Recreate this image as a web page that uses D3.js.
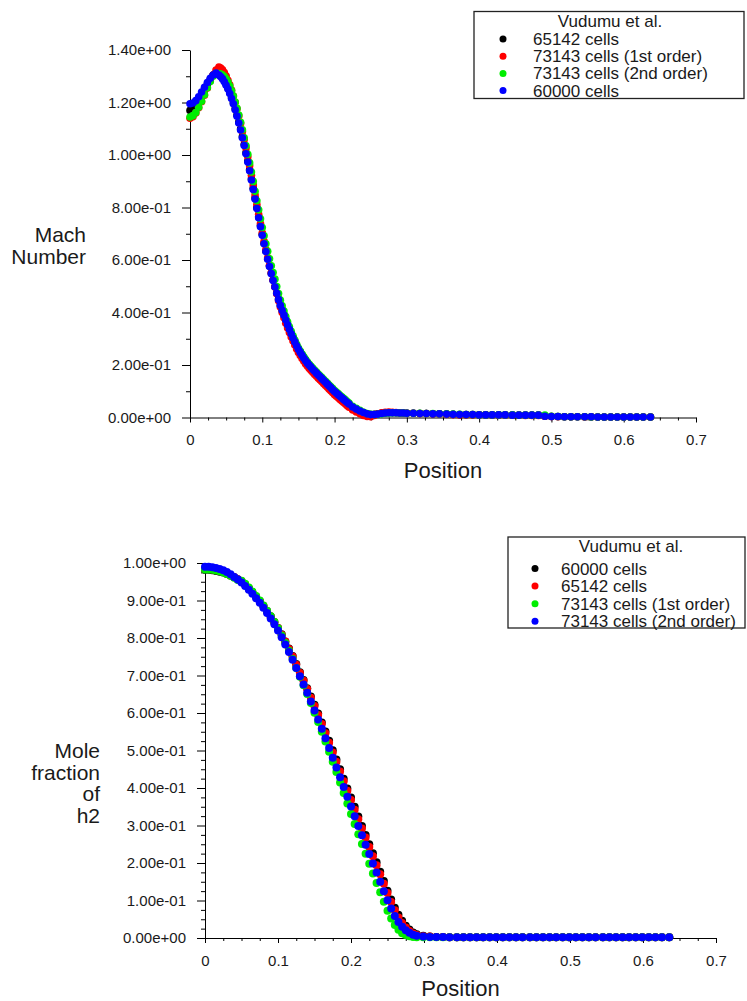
<!DOCTYPE html>
<html>
<head>
<meta charset="utf-8">
<script src="https://cdn.jsdelivr.net/npm/d3@7"></script>
<style>
  html, body { margin: 0; padding: 0; background: #fff; }
  svg { display: block; }
  text { font-family: "Liberation Sans", Arial, sans-serif; fill: #1a1a1a; }
</style>
</head>
<body>
<svg id="chart" width="747" height="1001"></svg>
<script>
// ---------- Mach number profile ----------
const machPosition = [
  0, 0.004, 0.008, 0.012, 0.016, 0.02, 0.024, 0.028, 0.032, 0.036, 0.04,
  0.0425, 0.045, 0.0475, 0.05, 0.0525, 0.055, 0.0575, 0.06, 0.0625, 0.065, 0.0675, 0.07, 0.0725, 0.075, 0.0775, 0.08, 0.0825, 0.085, 0.0875, 0.09, 0.0925, 0.095, 0.0975, 0.1,
  0.1025, 0.105, 0.1075, 0.11, 0.1125, 0.115, 0.1175, 0.12, 0.1225, 0.125, 0.1275, 0.13, 0.1325, 0.135, 0.1375, 0.14, 0.1425, 0.145, 0.1475, 0.15, 0.1525, 0.155, 0.1575, 0.16,
  0.1625, 0.165, 0.1675, 0.17, 0.1725, 0.175, 0.1775, 0.18, 0.1825, 0.185, 0.1875, 0.19, 0.1925, 0.195, 0.1975, 0.2, 0.2025, 0.205, 0.2075, 0.21, 0.2125, 0.215, 0.2175, 0.22,
  0.225, 0.23, 0.235, 0.24, 0.245, 0.25, 0.255, 0.26, 0.265, 0.27, 0.275, 0.28, 0.285, 0.29, 0.295, 0.3,
  0.309, 0.318, 0.327, 0.336, 0.345, 0.355, 0.364, 0.373, 0.382, 0.391, 0.4, 0.409, 0.418, 0.427, 0.436, 0.446, 0.455, 0.464, 0.473, 0.482,
  0.491, 0.5, 0.509, 0.518, 0.527, 0.536, 0.546, 0.555, 0.564, 0.573, 0.582, 0.591, 0.6, 0.609, 0.618, 0.627, 0.637
];
const mach65142 = [
  1.170, 1.176, 1.188, 1.205, 1.226, 1.247, 1.268, 1.288, 1.305, 1.314, 1.309,
  1.302, 1.294, 1.283, 1.270, 1.255, 1.238, 1.219, 1.199, 1.176, 1.152, 1.126, 1.099, 1.070, 1.040, 1.009, 0.977, 0.944, 0.909, 0.873, 0.836, 0.800, 0.765, 0.731, 0.698,
  0.664, 0.634, 0.605, 0.577, 0.550, 0.524, 0.499, 0.475, 0.451, 0.429, 0.410, 0.392, 0.373, 0.355, 0.338, 0.321, 0.305, 0.290, 0.275, 0.262, 0.250, 0.239, 0.228, 0.218,
  0.207, 0.199, 0.191, 0.183, 0.176, 0.169, 0.162, 0.155, 0.148, 0.141, 0.134, 0.127, 0.120, 0.113, 0.106, 0.099, 0.093, 0.087, 0.081, 0.075, 0.069, 0.063, 0.057, 0.051,
  0.040, 0.032, 0.025, 0.019, 0.014, 0.011, 0.012, 0.014, 0.016, 0.017, 0.018, 0.018, 0.018, 0.017, 0.017, 0.016,
  0.016, 0.015, 0.015, 0.014, 0.014, 0.013, 0.012, 0.011, 0.011, 0.011, 0.010, 0.010, 0.010, 0.010, 0.010, 0.009, 0.009, 0.009, 0.009, 0.009,
  0.005, 0.004, 0.004, 0.003, 0.003, 0.003, 0.003, 0.003, 0.002, 0.002, 0.002, 0.002, 0.002, 0.002, 0.002, 0.002, 0.002
];
const mach73143First = [
  1.140, 1.146, 1.160, 1.180, 1.203, 1.228, 1.255, 1.282, 1.305, 1.324, 1.335,
  1.331, 1.325, 1.314, 1.301, 1.285, 1.267, 1.247, 1.225, 1.201, 1.176, 1.149, 1.120, 1.090, 1.059, 1.027, 0.993, 0.959, 0.923, 0.886, 0.848, 0.811, 0.774, 0.739, 0.704,
  0.671, 0.640, 0.609, 0.580, 0.551, 0.524, 0.497, 0.471, 0.445, 0.421, 0.400, 0.380, 0.359, 0.341, 0.324, 0.307, 0.291, 0.276, 0.261, 0.248, 0.236, 0.225, 0.214, 0.204,
  0.195, 0.187, 0.179, 0.171, 0.164, 0.157, 0.150, 0.143, 0.136, 0.129, 0.122, 0.115, 0.108, 0.101, 0.094, 0.087, 0.081, 0.075, 0.069, 0.063, 0.057, 0.051, 0.045, 0.039,
  0.029, 0.021, 0.014, 0.008, 0.004, 0.003, 0.008, 0.014, 0.018, 0.020, 0.021, 0.020, 0.019, 0.018, 0.017, 0.016,
  0.016, 0.015, 0.015, 0.014, 0.013, 0.012, 0.011, 0.010, 0.010, 0.010, 0.010, 0.010, 0.009, 0.009, 0.009, 0.009, 0.009, 0.008, 0.008, 0.008,
  0.005, 0.004, 0.003, 0.003, 0.003, 0.003, 0.002, 0.002, 0.002, 0.002, 0.002, 0.002, 0.002, 0.002, 0.002, 0.002, 0.002
];
const mach73143Second = [
  1.145, 1.150, 1.162, 1.182, 1.205, 1.230, 1.256, 1.280, 1.300, 1.310, 1.310,
  1.308, 1.305, 1.299, 1.290, 1.278, 1.263, 1.245, 1.225, 1.202, 1.178, 1.152, 1.125, 1.096, 1.066, 1.035, 1.003, 0.970, 0.935, 0.899, 0.862, 0.826, 0.791, 0.757, 0.724,
  0.692, 0.662, 0.633, 0.605, 0.578, 0.552, 0.527, 0.499, 0.472, 0.447, 0.426, 0.406, 0.385, 0.365, 0.346, 0.328, 0.311, 0.295, 0.279, 0.265, 0.253, 0.242, 0.231, 0.221,
  0.211, 0.203, 0.195, 0.187, 0.180, 0.173, 0.166, 0.159, 0.152, 0.145, 0.138, 0.131, 0.124, 0.117, 0.110, 0.103, 0.097, 0.091, 0.085, 0.079, 0.073, 0.067, 0.061, 0.055,
  0.043, 0.035, 0.027, 0.020, 0.015, 0.012, 0.011, 0.012, 0.014, 0.016, 0.017, 0.018, 0.018, 0.017, 0.017, 0.016,
  0.016, 0.016, 0.015, 0.015, 0.014, 0.014, 0.013, 0.012, 0.011, 0.011, 0.010, 0.010, 0.010, 0.010, 0.010, 0.010, 0.009, 0.009, 0.009, 0.009,
  0.009, 0.005, 0.004, 0.003, 0.003, 0.003, 0.003, 0.002, 0.002, 0.002, 0.002, 0.002, 0.002, 0.002, 0.002, 0.002, 0.002
];
const mach60000 = [
  1.195, 1.198, 1.207, 1.222, 1.240, 1.258, 1.276, 1.292, 1.305, 1.312, 1.305,
  1.298, 1.290, 1.279, 1.266, 1.251, 1.234, 1.215, 1.195, 1.172, 1.148, 1.122, 1.095, 1.066, 1.036, 1.005, 0.973, 0.940, 0.905, 0.869, 0.832, 0.796, 0.761, 0.727, 0.694,
  0.662, 0.632, 0.603, 0.575, 0.548, 0.522, 0.497, 0.473, 0.449, 0.427, 0.408, 0.390, 0.371, 0.353, 0.336, 0.319, 0.303, 0.288, 0.273, 0.260, 0.248, 0.237, 0.226, 0.216,
  0.207, 0.199, 0.191, 0.183, 0.176, 0.169, 0.162, 0.155, 0.148, 0.141, 0.134, 0.127, 0.120, 0.113, 0.106, 0.099, 0.093, 0.087, 0.081, 0.075, 0.069, 0.063, 0.057, 0.051,
  0.040, 0.032, 0.025, 0.019, 0.014, 0.011, 0.011, 0.013, 0.015, 0.017, 0.018, 0.018, 0.018, 0.017, 0.017, 0.016,
  0.016, 0.015, 0.015, 0.014, 0.014, 0.013, 0.012, 0.011, 0.011, 0.011, 0.010, 0.010, 0.010, 0.010, 0.010, 0.009, 0.009, 0.009, 0.009, 0.009,
  0.005, 0.004, 0.004, 0.003, 0.003, 0.003, 0.003, 0.003, 0.002, 0.002, 0.002, 0.002, 0.002, 0.002, 0.002, 0.002, 0.002
];

// ---------- H2 mole fraction profile ----------
const h2Position = [
  0, 0.005, 0.01, 0.015, 0.02, 0.025, 0.03, 0.035, 0.04, 0.045,
  0.05, 0.055, 0.06, 0.065, 0.07, 0.075, 0.08, 0.085, 0.09, 0.095,
  0.1, 0.105, 0.11, 0.115, 0.12, 0.125, 0.13, 0.135, 0.14, 0.145,
  0.15, 0.155, 0.16, 0.165, 0.17, 0.175, 0.18, 0.185, 0.19, 0.195,
  0.2, 0.205, 0.21, 0.215, 0.22, 0.225, 0.23, 0.235, 0.24, 0.245,
  0.25, 0.255, 0.26, 0.265, 0.27, 0.275, 0.28, 0.285, 0.29,
  0.299, 0.308, 0.317, 0.326, 0.335, 0.345, 0.354, 0.363, 0.372, 0.381, 0.39, 0.399, 0.408, 0.417, 0.426, 0.435, 0.445, 0.454, 0.463,
  0.472, 0.481, 0.49, 0.499, 0.508, 0.517, 0.526, 0.535, 0.545, 0.554, 0.563, 0.572, 0.581, 0.59, 0.599, 0.608, 0.617, 0.626, 0.636
];
const h2Cells60000 = [
  0.982, 0.982, 0.981, 0.979, 0.977, 0.975, 0.971, 0.967, 0.962, 0.957,
  0.951, 0.943, 0.933, 0.922, 0.911, 0.899, 0.886, 0.872, 0.858, 0.843,
  0.827, 0.810, 0.791, 0.772, 0.752, 0.731, 0.709, 0.688, 0.666, 0.644,
  0.622, 0.599, 0.575, 0.551, 0.526, 0.501, 0.476, 0.450, 0.425, 0.399,
  0.375, 0.350, 0.324, 0.299, 0.275, 0.250, 0.226, 0.202, 0.177, 0.152,
  0.126, 0.103, 0.081, 0.062, 0.046, 0.033, 0.023, 0.015, 0.010,
  0.006, 0.004, 0.003, 0.003, 0.002, 0.002, 0.002, 0.002, 0.002, 0.002, 0.002, 0.002, 0.002, 0.002, 0.002, 0.002, 0.002, 0.002, 0.002,
  0.002, 0.002, 0.002, 0.002, 0.002, 0.002, 0.002, 0.002, 0.002, 0.002, 0.002, 0.002, 0.002, 0.002, 0.002, 0.002, 0.002, 0.002, 0.002
];
const h2Cells65142 = [
  0.984, 0.984, 0.983, 0.981, 0.979, 0.976, 0.972, 0.967, 0.962, 0.956,
  0.952, 0.943, 0.933, 0.922, 0.910, 0.898, 0.885, 0.871, 0.857, 0.842,
  0.827, 0.809, 0.791, 0.771, 0.751, 0.729, 0.707, 0.686, 0.664, 0.641,
  0.619, 0.595, 0.571, 0.546, 0.521, 0.495, 0.470, 0.444, 0.418, 0.393,
  0.368, 0.342, 0.317, 0.292, 0.268, 0.243, 0.218, 0.194, 0.170, 0.145,
  0.120, 0.096, 0.074, 0.055, 0.040, 0.028, 0.019, 0.012, 0.008,
  0.005, 0.004, 0.003, 0.003, 0.002, 0.002, 0.002, 0.002, 0.002, 0.002, 0.002, 0.002, 0.002, 0.002, 0.002, 0.002, 0.002, 0.002, 0.002,
  0.002, 0.002, 0.002, 0.002, 0.002, 0.002, 0.002, 0.002, 0.002, 0.002, 0.002, 0.002, 0.002, 0.002, 0.002, 0.002, 0.002, 0.002, 0.002
];
const h2Cells73143First = [
  0.983, 0.983, 0.982, 0.980, 0.978, 0.975, 0.971, 0.966, 0.961, 0.955,
  0.953, 0.945, 0.935, 0.924, 0.912, 0.900, 0.887, 0.873, 0.858, 0.843,
  0.826, 0.807, 0.787, 0.766, 0.744, 0.720, 0.697, 0.674, 0.651, 0.627,
  0.601, 0.576, 0.550, 0.524, 0.497, 0.470, 0.443, 0.415, 0.387, 0.359,
  0.331, 0.304, 0.277, 0.251, 0.225, 0.198, 0.172, 0.147, 0.122, 0.097,
  0.073, 0.052, 0.035, 0.022, 0.013, 0.008, 0.005, 0.003, 0.002,
  0.002, 0.002, 0.002, 0.002, 0.002, 0.002, 0.002, 0.002, 0.002, 0.002, 0.002, 0.002, 0.002, 0.002, 0.002, 0.002, 0.002, 0.002, 0.002,
  0.002, 0.002, 0.002, 0.002, 0.002, 0.002, 0.002, 0.002, 0.002, 0.002, 0.002, 0.002, 0.002, 0.002, 0.002, 0.002, 0.002, 0.002, 0.002
];
const h2Cells73143Second = [
  0.990, 0.990, 0.989, 0.987, 0.984, 0.981, 0.976, 0.970, 0.963, 0.956,
  0.948, 0.939, 0.929, 0.918, 0.906, 0.894, 0.881, 0.867, 0.852, 0.837,
  0.820, 0.802, 0.783, 0.763, 0.742, 0.720, 0.698, 0.676, 0.654, 0.631,
  0.607, 0.583, 0.558, 0.533, 0.507, 0.481, 0.455, 0.429, 0.403, 0.377,
  0.351, 0.325, 0.299, 0.274, 0.249, 0.224, 0.199, 0.175, 0.150, 0.125,
  0.101, 0.079, 0.059, 0.043, 0.030, 0.021, 0.014, 0.009, 0.006,
  0.004, 0.003, 0.003, 0.003, 0.002, 0.002, 0.002, 0.002, 0.002, 0.002, 0.002, 0.002, 0.002, 0.002, 0.002, 0.002, 0.002, 0.002, 0.002,
  0.002, 0.002, 0.002, 0.002, 0.002, 0.002, 0.002, 0.002, 0.002, 0.002, 0.002, 0.002, 0.002, 0.002, 0.002, 0.002, 0.002, 0.002, 0.002
];

// ---------- tick values and labels ----------
const positionTicks = [0, 0.1, 0.2, 0.3, 0.4, 0.5, 0.6, 0.7];
const positionTickLabels = ["0", "0.1", "0.2", "0.3", "0.4", "0.5", "0.6", "0.7"];
const machTicks = [0, 0.2, 0.4, 0.6, 0.8, 1.0, 1.2, 1.4];
const machTickLabels = ["0.00e+00", "2.00e-01", "4.00e-01", "6.00e-01", "8.00e-01", "1.00e+00", "1.20e+00", "1.40e+00"];
const h2Ticks = [0, 0.1, 0.2, 0.3, 0.4, 0.5, 0.6, 0.7, 0.8, 0.9, 1.0];
const h2TickLabels = ["0.00e+00", "1.00e-01", "2.00e-01", "3.00e-01", "4.00e-01", "5.00e-01", "6.00e-01", "7.00e-01", "8.00e-01", "9.00e-01", "1.00e+00"];

const legendTitle = "Vudumu et al.";
const machLabels = ["65142 cells", "73143 cells (1st order)", "73143 cells (2nd order)", "60000 cells"];
const h2Labels = ["60000 cells", "65142 cells", "73143 cells (1st order)", "73143 cells (2nd order)"];
const seriesColors = ["#000000", "#ff0000", "#00ee00", "#0000ff"];

const svg = d3.select("#chart");

function drawPanel(cfg) {
  const g = svg.append("g");
  const x = d3.scaleLinear().domain([0, 0.7]).range(cfg.xRange);
  const y = d3.scaleLinear().domain(cfg.yDomain).range(cfg.yRange);

  // minor ticks
  const xMinor = d3.range(0, 0.7001, 0.025).filter(v => Math.abs(v * 10 - Math.round(v * 10)) > 1e-6);
  const yMinor = d3.range(cfg.yDomain[0], cfg.yDomain[1] + 1e-6, cfg.yMinorStep)
    .filter(v => !cfg.yTicks.some(t => Math.abs(t - v) < 1e-6));

  g.append("g").attr("transform", `translate(0,${cfg.yRange[0]})`)
    .call(d3.axisBottom(x).tickValues(xMinor).tickSize(3).tickFormat("").tickSizeOuter(0))
    .call(s => s.select(".domain").remove());
  g.append("g").attr("transform", `translate(${cfg.xRange[0]},0)`)
    .call(d3.axisLeft(y).tickValues(yMinor).tickSize(4).tickFormat("").tickSizeOuter(0))
    .call(s => s.select(".domain").remove());

  // major axes
  const xAxis = g.append("g").attr("transform", `translate(0,${cfg.yRange[0]})`)
    .call(d3.axisBottom(x).tickValues(positionTicks)
      .tickFormat((d, i) => positionTickLabels[i]).tickSize(5).tickPadding(12).tickSizeOuter(0));
  const yAxis = g.append("g").attr("transform", `translate(${cfg.xRange[0]},0)`)
    .call(d3.axisLeft(y).tickValues(cfg.yTicks)
      .tickFormat((d, i) => cfg.yTickLabels[i]).tickSize(8).tickPadding(11).tickSizeOuter(0));
  [xAxis, yAxis].forEach(a => {
    a.selectAll("text").style("font-size", "15px").style("font-family", '"Liberation Sans", Arial, sans-serif').attr("fill", "#1a1a1a");
    a.selectAll("line, path").attr("stroke", "#000");
  });
  g.selectAll(".tick line").attr("stroke", "#000");

  // series dots, first series at the bottom
  cfg.series.forEach((vals, si) => {
    const pts = cfg.positions.map((p, i) => [p, vals[i]]).filter(d => d[1] !== undefined);
    g.append("g").selectAll("circle").data(pts).join("circle")
      .attr("cx", d => x(d[0])).attr("cy", d => y(d[1]))
      .attr("r", cfg.dotR).attr("fill", seriesColors[si]);
  });

  // axis titles
  g.append("text").attr("x", (cfg.xRange[0] + cfg.xRange[1]) / 2).attr("y", cfg.xTitleY)
    .attr("text-anchor", "middle").style("font-size", "22px").text("Position");
  const yt = g.append("text").attr("text-anchor", "end").style("font-size", "21px");
  cfg.yTitle.forEach((line, i) => {
    yt.append("tspan").attr("x", cfg.yTitleX).attr("y", cfg.yTitleY + i * cfg.yTitleGap).text(line);
  });

  // legend
  const L = cfg.legend;
  const lg = g.append("g");
  lg.append("rect").attr("x", L.x).attr("y", L.y).attr("width", L.w).attr("height", L.h)
    .attr("fill", "#fff").attr("stroke", "#222").attr("stroke-width", 1.3);
  lg.append("text").attr("x", L.titleX).attr("y", L.titleY).attr("text-anchor", "middle")
    .style("font-size", "17px").text(legendTitle);
  cfg.labels.forEach((lab, i) => {
    const cy = L.rowY + i * L.rowGap;
    lg.append("circle").attr("cx", L.dotX).attr("cy", cy).attr("r", 3.5).attr("fill", seriesColors[i]);
    lg.append("text").attr("x", L.textX).attr("y", cy + 6).style("font-size", L.fontSize).text(lab);
  });
}

drawPanel({
  xRange: [190, 696], yDomain: [0, 1.4], yRange: [417.5, 50],
  yTicks: machTicks, yTickLabels: machTickLabels, yMinorStep: 0.1,
  positions: machPosition, dotR: 3.8,
  series: [mach65142, mach73143First, mach73143Second, mach60000],
  labels: machLabels,
  xTitleY: 478, yTitle: ["Mach", "Number"], yTitleX: 86, yTitleY: 242, yTitleGap: 22,
  legend: { x: 474, y: 11.5, w: 270, h: 87, titleX: 610, titleY: 27, rowY: 39, rowGap: 17.2, dotX: 503, textX: 533, fontSize: "17px" }
});

drawPanel({
  xRange: [205, 716], yDomain: [0, 1.0], yRange: [938, 563],
  yTicks: h2Ticks, yTickLabels: h2TickLabels, yMinorStep: 0.025,
  positions: h2Position, dotR: 4,
  series: [h2Cells60000, h2Cells65142, h2Cells73143First, h2Cells73143Second],
  labels: h2Labels,
  xTitleY: 996, yTitle: ["Mole", "fraction", "of", "h2"], yTitleX: 100, yTitleY: 758, yTitleGap: 21.7,
  legend: { x: 508, y: 537, w: 237, h: 91, titleX: 631, titleY: 552, rowY: 568.5, rowGap: 17.6, dotX: 535, textX: 561, fontSize: "17px" }
});
</script>
</body>
</html>
